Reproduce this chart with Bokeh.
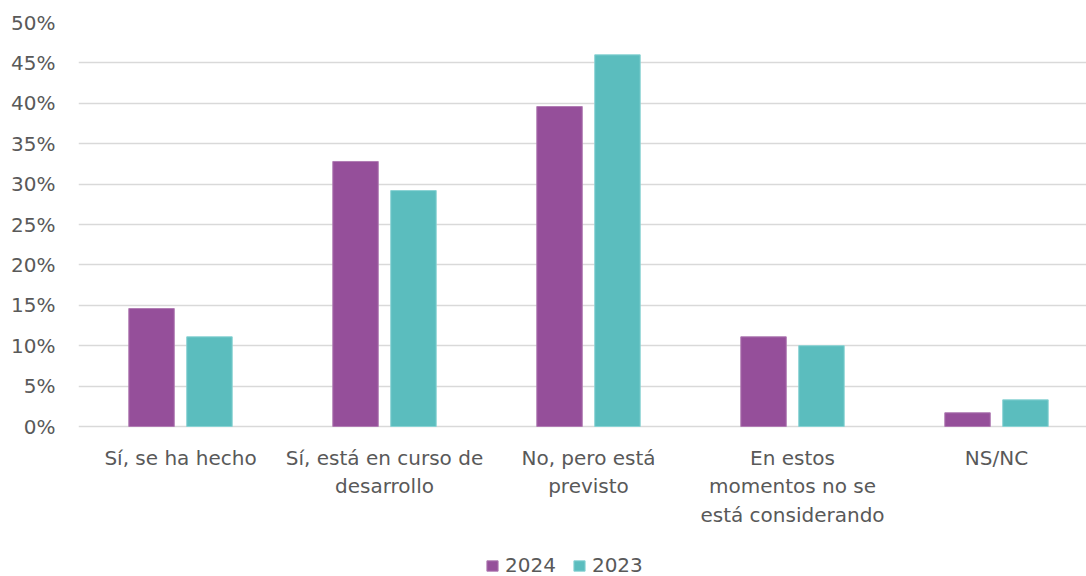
from bokeh.plotting import figure
from bokeh.models import (ColumnDataSource, Range1d, FixedTicker, NumeralTickFormatter,
                          Legend, LegendItem)
from bokeh.core.properties import value
from bokeh.embed import file_html
from bokeh.resources import INLINE

categories = ["Sí, se ha hecho", "Sí, está en curso de\ndesarrollo", "No, pero está\nprevisto",
              "En estos\nmomentos no se\nestá considerando", "NS/NC"]
series_names = ["2024", "2023"]
values_2024 = [0.146, 0.328, 0.396, 0.111, 0.017]
values_2023 = [0.111, 0.292, 0.460, 0.100, 0.033]
y_ticks = [0.0, 0.05, 0.10, 0.15, 0.20, 0.25, 0.30, 0.35, 0.40, 0.45, 0.50]

COL_2024 = "#954F9A"
COL_2023 = "#5BBDBE"
TXT = "#595959"
FONT = "DejaVu Sans"

W, H = 1086, 576
LEFT, TOP = 78, 22
ZERO_Y = 426            # pixel row of the 0% line
CAT_PX = 204
Y_MAX = 0.5
px_per_unit = (ZERO_Y - TOP) / Y_MAX
y_min = -(H - ZERO_Y) / px_per_unit
label_y = -19 / px_per_unit

pos = [i + 0.5 for i in range(len(categories))]
offset = 0.142
bw = 0.223

src = ColumnDataSource(dict(
    x24=[p - offset for p in pos], x23=[p + offset for p in pos],
    v24=values_2024, v23=values_2023))
lab_src = ColumnDataSource(dict(x=pos, y=[label_y] * len(pos), t=categories))

p = figure(width=W, height=H, output_backend="svg", toolbar_location=None,
           x_range=Range1d(0, (W - LEFT) / CAT_PX), y_range=Range1d(y_min, Y_MAX),
           min_border_left=LEFT, min_border_right=0, min_border_top=TOP, min_border_bottom=0)
p.outline_line_color = None
p.background_fill_color = "white"
p.border_fill_color = "white"

r24 = p.vbar(x="x24", top="v24", bottom=0, width=bw, source=src, fill_color=COL_2024,
             line_color="#B07CB3", line_width=1)
r23 = p.vbar(x="x23", top="v23", bottom=0, width=bw, source=src, fill_color=COL_2023,
             line_color="#8AD3D4", line_width=1)

p.text(x="x", y="y", text="t", source=lab_src, text_align="center", text_baseline="top",
       text_font=value(FONT), text_font_size="20px", text_color=TXT, text_line_height=1.2)

# y axis
p.yaxis.ticker = FixedTicker(ticks=y_ticks)
p.yaxis.formatter = NumeralTickFormatter(format="0%")
p.yaxis.axis_line_color = None
p.yaxis.major_tick_line_color = None
p.yaxis.major_tick_out = 0
p.yaxis.major_tick_in = 0
p.yaxis.minor_tick_line_color = None
p.yaxis.major_label_text_font = FONT
p.yaxis.major_label_text_font_size = "20px"
p.yaxis.major_label_text_color = TXT
p.yaxis.major_label_standoff = 23

p.xaxis.visible = False
p.xgrid.grid_line_color = None
p.ygrid.ticker = FixedTicker(ticks=y_ticks)
p.ygrid.grid_line_color = "#D9D9D9"
p.ygrid.grid_line_width = 1.5

legend = Legend(items=[LegendItem(label=series_names[0], renderers=[r24]),
                       LegendItem(label=series_names[1], renderers=[r23])],
                orientation="horizontal", location=(407, -1),
                label_text_font=FONT, label_text_font_size="20px", label_text_color=TXT,
                glyph_width=14, glyph_height=13, label_standoff=6, spacing=16,
                border_line_color=None, background_fill_alpha=0, margin=0, padding=0)
p.add_layout(legend, "center")

open("out.html", "w").write(file_html(p, INLINE))
